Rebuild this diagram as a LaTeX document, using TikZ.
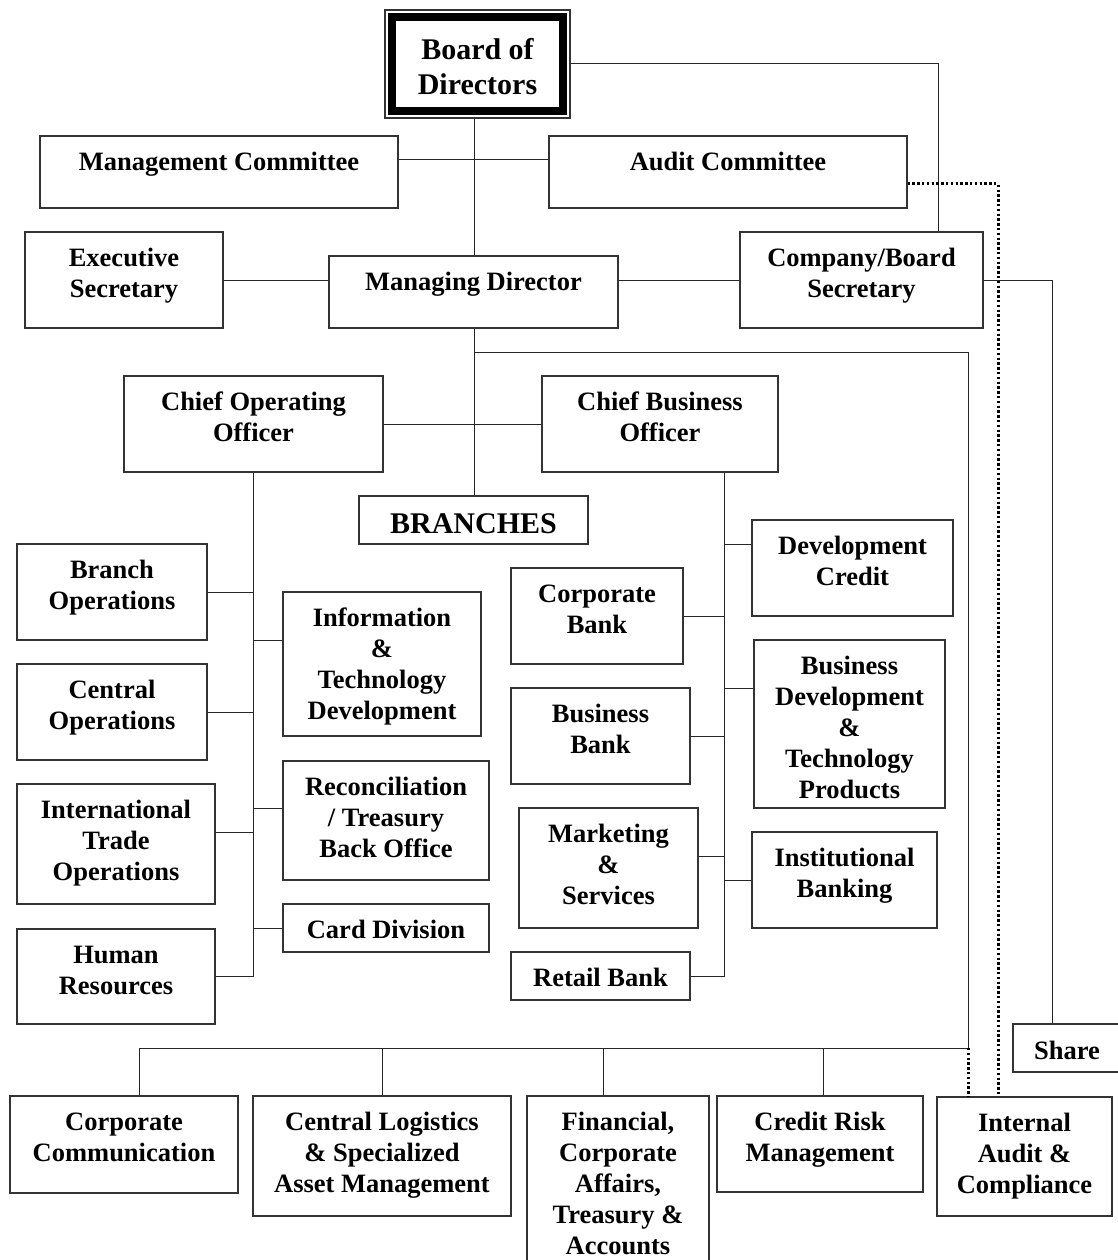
\documentclass[tikz,border=0pt]{standalone}
\usepackage{fontspec}
\setmainfont{Liberation Serif}
\newcommand\padval{12.8pt}
\newcommand\obox[7]{\node[box,#1] (#2) at ({(#3+#5)/2},{-(#4+#6)/2}) {\begin{minipage}[c][\dimexpr#6pt-#4pt\relax][t]{\dimexpr#5pt-#3pt\relax}\centering\vspace*{\padval}\strut #7\end{minipage}};}
\begin{document}
\begin{tikzpicture}[x=1pt,y=1pt,
  box/.style={draw=black!80, line width=1.1pt, inner sep=0pt, font=\fontsize{26.5}{31}\selectfont\bfseries},
  bigbox/.style={font=\fontsize{30}{35}\selectfont\bfseries},
  conn/.style={draw=black!85, line width=1pt},
  dotline/.style={draw=black, line width=3pt, dash pattern=on 2.4pt off 2.4pt}]
\fill[white] (0,0) rectangle (1117,-1260);
\useasboundingbox (0,0) rectangle (1117,-1260);

% top level
\renewcommand\padval{25.5pt}
\obox{bigbox}{bod}{385}{10}{570}{118}{Board of\\Directors}
\renewcommand\padval{12.8pt}
\draw[line width=8pt] ([shift={(7.5,-7.5)}]bod.north west) rectangle ([shift={(-7.5,7.5)}]bod.south east);

\obox{}{mc}{40}{136}{398}{208}{Management Committee}
\obox{}{ac}{549}{136}{907}{208}{Audit Committee}
\obox{}{es}{25}{232}{223}{328}{Executive\\Secretary}
\obox{}{md}{329}{256}{618}{328}{Managing Director}
\obox{}{cbs}{740}{232}{983}{328}{Company/Board\\Secretary}
\obox{}{coo}{124}{376}{383}{472}{Chief Operating\\Officer}
\obox{}{cbo}{542}{376}{778}{472}{Chief Business\\Officer}
\obox{bigbox}{br}{359}{496}{588}{544}{BRANCHES}

% COO side
\obox{}{bo}{17}{544}{207}{640}{Branch\\Operations}
\obox{}{co}{17}{664}{207}{760}{Central\\Operations}
\obox{}{ito}{17}{784}{215}{904}{International\\Trade\\Operations}
\obox{}{hr}{17}{929}{215}{1024}{Human\\Resources}
\obox{}{itd}{283}{592}{481}{736}{Information\\\&\\Technology\\Development}
\obox{}{rec}{283}{761}{489}{880}{Reconciliation\\/ Treasury\\Back Office}
\obox{}{card}{283}{904}{489}{952}{Card Division}

% CBO side
\obox{}{cb}{511}{568}{683}{664}{Corporate\\Bank}
\obox{}{bb}{511}{688}{690}{784}{Business\\Bank}
\obox{}{ms}{519}{808}{698}{928}{Marketing\\\&\\Services}
\obox{}{rb}{511}{952}{690}{1000}{Retail Bank}
\obox{}{dc}{752}{520}{953}{616}{Development\\Credit}
\obox{}{bdt}{754}{640}{945}{808}{Business\\Development\\\&\\Technology\\Products}
\obox{}{ib}{752}{832}{937}{928}{Institutional\\Banking}

% right and bottom
\renewcommand\padval{13.6pt}
\obox{}{share}{1013}{1024}{1121}{1072}{Share}
\renewcommand\padval{12.8pt}
\obox{}{cc}{10}{1096}{238}{1193}{Corporate\\Communication}
\obox{}{cl}{253}{1096}{511}{1216}{Central Logistics\\\& Specialized\\Asset Management}
\obox{}{fc}{527}{1096}{709}{1263}{Financial,\\Corporate\\Affairs,\\Treasury \&\\Accounts}
\obox{}{crm}{717}{1096}{923}{1192}{Credit Risk\\Management}
\obox{}{iac}{937}{1097}{1112}{1216}{Internal\\Audit \&\\Compliance}

% connectors
\draw[conn] (bod.east) -| (cbs.north -| 938,0);
\draw[conn] (bod.south -| 474,0) -- (md.north -| 474,0);
\draw[conn] (mc.east |- 0,-160) -- (ac.west |- 0,-160);
\draw[conn] (es.east) -- (md.west |- es.east);
\draw[conn] (md.east |- cbs.west) -- (cbs.west);
\draw[conn] (cbs.east) -| (share.north -| 1052,0);
\draw[dotline] (ac.east |- 0,-184) -| (iac.north -| 998,0);
\draw[conn] (md.south -| 474,0) -- (br.north -| 474,0);

\coordinate (busR) at (968,-1048);
\coordinate (busL) at (139,-1048);
\draw[conn] (474,-352) -| (busR) -- (busL);
\draw[dotline] (busR) -- (iac.north -| busR);
\draw[conn] (busL) -- (cc.north -| busL);
\draw[conn] (382,-1048) -- (cl.north -| 382,0);
\draw[conn] (603,-1048) -- (fc.north -| 603,0);
\draw[conn] (823,-1048) -- (crm.north -| 823,0);

% COO branch
\draw[conn] (coo.east) -- (cbo.west |- coo.east);
\draw[conn] (coo.south) |- (hr.east);
\draw[conn] (bo.east) -- (bo.east -| coo.south);
\draw[conn] (co.east) -- (co.east -| coo.south);
\draw[conn] (ito.east |- 0,-832) -- (coo.south |- 0,-832);
\draw[conn] (itd.west |- 0,-640) -- (coo.south |- 0,-640);
\draw[conn] (rec.west |- 0,-808) -- (coo.south |- 0,-808);
\draw[conn] (card.west) -- (card.west -| coo.south);

% CBO branch
\draw[conn] (cbo.south -| 724,0) |- (rb.east);
\draw[conn] (cb.east) -- (cb.east -| 724,0);
\draw[conn] (bb.east) -- (bb.east -| 724,0);
\draw[conn] (ms.east |- 0,-856) -- (724,-856);
\draw[conn] (dc.west |- 0,-544) -- (724,-544);
\draw[conn] (bdt.west |- 0,-688) -- (724,-688);
\draw[conn] (ib.west) -- (ib.west -| 724,0);
\end{tikzpicture}
\end{document}
